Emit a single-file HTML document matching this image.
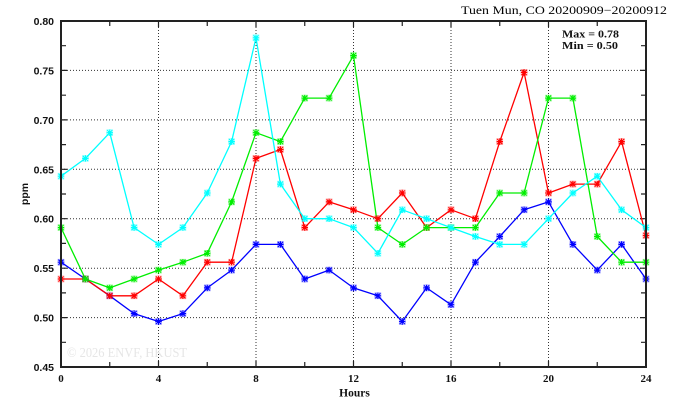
<!DOCTYPE html>
<html><head><meta charset="utf-8"><style>
html,body{margin:0;padding:0;background:#fff;}
svg{display:block;}
.yl{font-family:"Liberation Sans",sans-serif;font-size:10.5px;font-weight:bold;fill:#111;}
.xl{font-family:"Liberation Serif",serif;font-size:11px;font-weight:bold;fill:#111;}
.sr{font-family:"Liberation Serif",serif;font-weight:bold;fill:#111;}
</style></head><body>
<svg width="674" height="409" viewBox="0 0 674 409" xmlns="http://www.w3.org/2000/svg">
<defs>
<g id="m"><path d="M-3.2,0H3.2M0,-3.2V3.2M-2.5,-2.5L2.5,2.5M-2.5,2.5L2.5,-2.5" stroke-width="1.2"/><rect x="-3" y="-3" width="6" height="6" fill="none" stroke-width="0.6" stroke-opacity="0.45"/></g>
</defs>
<!-- grid -->
<g stroke="#333" stroke-width="1" stroke-dasharray="1,2">
<line x1="158.5" y1="21" x2="158.5" y2="367"/>
<line x1="256" y1="21" x2="256" y2="367"/>
<line x1="353.5" y1="21" x2="353.5" y2="367"/>
<line x1="451" y1="21" x2="451" y2="367"/>
<line x1="548.5" y1="21" x2="548.5" y2="367"/>
<line x1="61" y1="317.6" x2="646" y2="317.6"/>
<line x1="61" y1="268.2" x2="646" y2="268.2"/>
<line x1="61" y1="218.7" x2="646" y2="218.7"/>
<line x1="61" y1="169.3" x2="646" y2="169.3"/>
<line x1="61" y1="119.9" x2="646" y2="119.9"/>
<line x1="61" y1="70.4" x2="646" y2="70.4"/>
</g>
<!-- watermark -->
<text x="67" y="357" font-family="Liberation Serif,serif" font-size="14" fill="#e6e6e6" textLength="120" lengthAdjust="spacingAndGlyphs">© 2026  ENVF, HKUST</text>
<!-- ticks -->
<g stroke="#222" stroke-width="1.2">
<path d="M109.75,367v-5M207.25,367v-5M304.75,367v-5M402.25,367v-5M499.75,367v-5M597.25,367v-5"/>
<path d="M109.75,21v5M207.25,21v5M304.75,21v5M402.25,21v5M499.75,21v5M597.25,21v5"/>
<path d="M158.5,367v-6M256,367v-6M353.5,367v-6M451,367v-6M548.5,367v-6"/>
<path d="M158.5,21v6M256,21v6M353.5,21v6M451,21v6M548.5,21v6"/>
<path d="M61,342.3h5M61,292.9h5M61,243.4h5M61,194h5M61,144.6h5M61,95.2h5M61,45.7h5"/>
<path d="M646,342.3h-5M646,292.9h-5M646,243.4h-5M646,194h-5M646,144.6h-5M646,95.2h-5M646,45.7h-5"/>
<path d="M61,317.6h6M61,268.2h6M61,218.7h6M61,169.3h6M61,119.9h6M61,70.4h6"/>
<path d="M646,317.6h-6M646,268.2h-6M646,218.7h-6M646,169.3h-6M646,119.9h-6M646,70.4h-6"/>
</g>
<!-- series -->
<g fill="none" stroke-width="1.3" stroke-linejoin="round">
<polyline stroke="#0000ff" points="61,262.2 85.4,279 109.75,295.8 134.1,313.6 158.5,321.5 182.9,313.6 207.25,287.9 231.6,270.1 256,244.4 280.4,244.4 304.75,279 329.1,270.1 353.5,287.9 377.9,295.8 402.25,321.5 426.6,287.9 451,304.7 475.4,262.2 499.75,236.5 524.1,209.8 548.5,201.9 572.9,244.4 597.25,270.1 621.6,244.4 646,279"/>
<polyline stroke="#ff0000" points="61,279 85.4,279 109.75,295.8 134.1,295.8 158.5,279 182.9,295.8 207.25,262.2 231.6,262.2 256,158.4 280.4,149.5 304.75,227.6 329.1,201.9 353.5,209.8 377.9,218.7 402.25,193 426.6,227.6 451,209.8 475.4,218.7 499.75,141.6 524.1,72.4 548.5,193 572.9,184.1 597.25,184.1 621.6,141.6 646,235.5"/>
<polyline stroke="#00ee00" points="61,227.6 85.4,279 109.75,287.9 134.1,279 158.5,270.1 182.9,262.2 207.25,253.3 231.6,201.9 256,132.7 280.4,141.6 304.75,98.1 329.1,98.1 353.5,55.6 377.9,227.6 402.25,244.4 426.6,227.6 451,227.6 475.4,227.6 499.75,193 524.1,193 548.5,98.1 572.9,98.1 597.25,236.5 621.6,262.2 646,262.2"/>
<polyline stroke="#00ffff" points="61,176.2 85.4,158.4 109.75,132.7 134.1,227.6 158.5,244.4 182.9,227.6 207.25,193 231.6,141.6 256,37.8 280.4,184.1 304.75,218.7 329.1,218.7 353.5,227.6 377.9,253.3 402.25,209.8 426.6,218.7 451,227.6 475.4,236.5 499.75,244.4 524.1,244.4 548.5,218.7 572.9,193 597.25,176.2 621.6,209.8 646,227.6"/>
</g>
<g stroke="#0000ff">
<use href="#m" x="61" y="262.2"/><use href="#m" x="85.4" y="279"/><use href="#m" x="109.75" y="295.8"/><use href="#m" x="134.1" y="313.6"/><use href="#m" x="158.5" y="321.5"/><use href="#m" x="182.9" y="313.6"/><use href="#m" x="207.25" y="287.9"/><use href="#m" x="231.6" y="270.1"/><use href="#m" x="256" y="244.4"/><use href="#m" x="280.4" y="244.4"/><use href="#m" x="304.75" y="279"/><use href="#m" x="329.1" y="270.1"/><use href="#m" x="353.5" y="287.9"/><use href="#m" x="377.9" y="295.8"/><use href="#m" x="402.25" y="321.5"/><use href="#m" x="426.6" y="287.9"/><use href="#m" x="451" y="304.7"/><use href="#m" x="475.4" y="262.2"/><use href="#m" x="499.75" y="236.5"/><use href="#m" x="524.1" y="209.8"/><use href="#m" x="548.5" y="201.9"/><use href="#m" x="572.9" y="244.4"/><use href="#m" x="597.25" y="270.1"/><use href="#m" x="621.6" y="244.4"/><use href="#m" x="646" y="279"/>
</g>
<g stroke="#ff0000">
<use href="#m" x="61" y="279"/><use href="#m" x="85.4" y="279"/><use href="#m" x="109.75" y="295.8"/><use href="#m" x="134.1" y="295.8"/><use href="#m" x="158.5" y="279"/><use href="#m" x="182.9" y="295.8"/><use href="#m" x="207.25" y="262.2"/><use href="#m" x="231.6" y="262.2"/><use href="#m" x="256" y="158.4"/><use href="#m" x="280.4" y="149.5"/><use href="#m" x="304.75" y="227.6"/><use href="#m" x="329.1" y="201.9"/><use href="#m" x="353.5" y="209.8"/><use href="#m" x="377.9" y="218.7"/><use href="#m" x="402.25" y="193"/><use href="#m" x="426.6" y="227.6"/><use href="#m" x="451" y="209.8"/><use href="#m" x="475.4" y="218.7"/><use href="#m" x="499.75" y="141.6"/><use href="#m" x="524.1" y="72.4"/><use href="#m" x="548.5" y="193"/><use href="#m" x="572.9" y="184.1"/><use href="#m" x="597.25" y="184.1"/><use href="#m" x="621.6" y="141.6"/><use href="#m" x="646" y="235.5"/>
</g>
<g stroke="#00ee00">
<use href="#m" x="61" y="227.6"/><use href="#m" x="85.4" y="279"/><use href="#m" x="109.75" y="287.9"/><use href="#m" x="134.1" y="279"/><use href="#m" x="158.5" y="270.1"/><use href="#m" x="182.9" y="262.2"/><use href="#m" x="207.25" y="253.3"/><use href="#m" x="231.6" y="201.9"/><use href="#m" x="256" y="132.7"/><use href="#m" x="280.4" y="141.6"/><use href="#m" x="304.75" y="98.1"/><use href="#m" x="329.1" y="98.1"/><use href="#m" x="353.5" y="55.6"/><use href="#m" x="377.9" y="227.6"/><use href="#m" x="402.25" y="244.4"/><use href="#m" x="426.6" y="227.6"/><use href="#m" x="451" y="227.6"/><use href="#m" x="475.4" y="227.6"/><use href="#m" x="499.75" y="193"/><use href="#m" x="524.1" y="193"/><use href="#m" x="548.5" y="98.1"/><use href="#m" x="572.9" y="98.1"/><use href="#m" x="597.25" y="236.5"/><use href="#m" x="621.6" y="262.2"/><use href="#m" x="646" y="262.2"/>
</g>
<g stroke="#00ffff">
<use href="#m" x="61" y="176.2"/><use href="#m" x="85.4" y="158.4"/><use href="#m" x="109.75" y="132.7"/><use href="#m" x="134.1" y="227.6"/><use href="#m" x="158.5" y="244.4"/><use href="#m" x="182.9" y="227.6"/><use href="#m" x="207.25" y="193"/><use href="#m" x="231.6" y="141.6"/><use href="#m" x="256" y="37.8"/><use href="#m" x="280.4" y="184.1"/><use href="#m" x="304.75" y="218.7"/><use href="#m" x="329.1" y="218.7"/><use href="#m" x="353.5" y="227.6"/><use href="#m" x="377.9" y="253.3"/><use href="#m" x="402.25" y="209.8"/><use href="#m" x="426.6" y="218.7"/><use href="#m" x="451" y="227.6"/><use href="#m" x="475.4" y="236.5"/><use href="#m" x="499.75" y="244.4"/><use href="#m" x="524.1" y="244.4"/><use href="#m" x="548.5" y="218.7"/><use href="#m" x="572.9" y="193"/><use href="#m" x="597.25" y="176.2"/><use href="#m" x="621.6" y="209.8"/><use href="#m" x="646" y="227.6"/>
</g>
<!-- frame -->
<rect x="61" y="21" width="585" height="346" fill="none" stroke="#222" stroke-width="2"/>
<!-- y labels -->
<g class="yl" text-anchor="end">
<text x="54" y="371">0.45</text>
<text x="54" y="321.6">0.50</text>
<text x="54" y="272.2">0.55</text>
<text x="54" y="222.7">0.60</text>
<text x="54" y="173.3">0.65</text>
<text x="54" y="123.9">0.70</text>
<text x="54" y="74.4">0.75</text>
<text x="54" y="25">0.80</text>
</g>
<text class="yl" transform="translate(28,194) rotate(-90)" text-anchor="middle" font-size="11">ppm</text>
<!-- x labels -->
<g class="xl" text-anchor="middle">
<text x="61" y="382">0</text>
<text x="158.5" y="382">4</text>
<text x="256" y="382">8</text>
<text x="353.5" y="382">12</text>
<text x="451" y="382">16</text>
<text x="548.5" y="382">20</text>
<text x="646" y="382">24</text>
</g>
<text class="sr" x="354.5" y="396.5" text-anchor="middle" font-size="11.5">Hours</text>
<!-- title -->
<text x="461" y="14" style="font-family:'Liberation Serif',serif;font-size:11.5px;font-weight:normal;fill:#000" textLength="206" lengthAdjust="spacingAndGlyphs">Tuen Mun, CO 20200909−20200912</text>
<text class="sr" x="562" y="37.5" font-size="11" textLength="57" lengthAdjust="spacingAndGlyphs">Max = 0.78</text>
<text class="sr" x="562" y="49" font-size="11" textLength="56" lengthAdjust="spacingAndGlyphs">Min = 0.50</text>
</svg>
</body></html>
